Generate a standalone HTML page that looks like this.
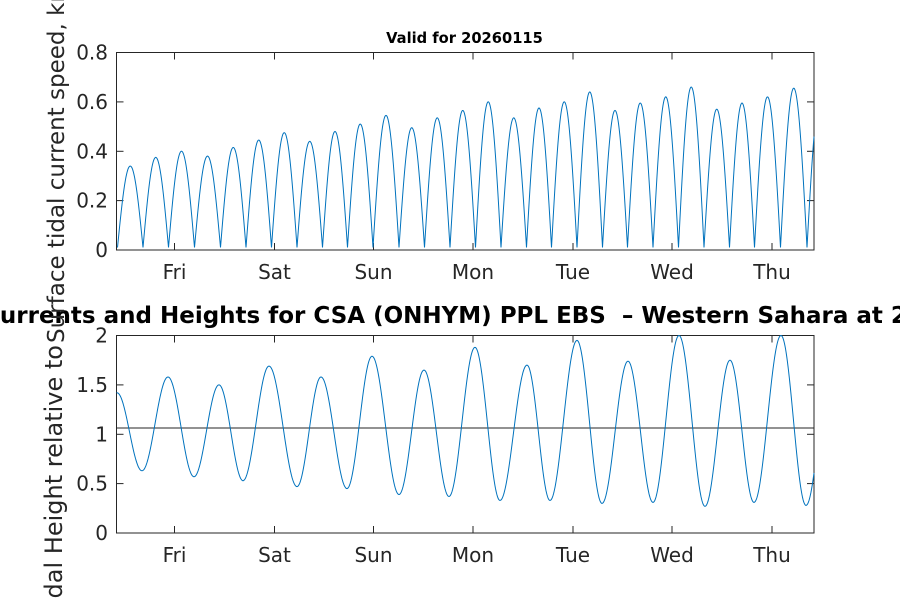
<!DOCTYPE html>
<html><head><meta charset="utf-8"><style>
html,body{margin:0;padding:0;background:#fff;}
svg{display:block;font-family:"DejaVu Sans","Liberation Sans",sans-serif;}
.t{font-size:20px;fill:#262626;}
</style></head><body>
<svg id="s" width="900" height="600" viewBox="0 0 900 600" xmlns="http://www.w3.org/2000/svg">
<rect width="900" height="600" fill="#fff"/>
<text x="464.5" y="43" text-anchor="middle" font-size="14.7" font-weight="bold" fill="#000">Valid for 20260115</text>
<text x="-17" y="323" font-size="23" font-weight="bold" fill="#000" xml:space="preserve" style="white-space:pre">Currents and Heights for CSA (ONHYM) PPL EBS  – Western Sahara at 20260115</text>
<text transform="translate(64,343) rotate(-90)" font-size="23" fill="#262626">Surface tidal current speed, knots</text>
<text transform="translate(62,345) rotate(-90)" font-size="24" fill="#262626" text-anchor="end">Tidal Height relative to</text>
<g id="g"></g>
</svg>
<script>
var g=document.getElementById('g'),h='';
function ax(top,bot,yt){
 h+='<rect x="116.5" y="'+top+'" width="697.5" height="'+(bot-top)+'" fill="none" stroke="#262626" stroke-width="1"/>';
 var days=[[174.5,'Fri'],[274.5,'Sat'],[373.5,'Sun'],[473,'Mon'],[573,'Tue'],[672,'Wed'],[772,'Thu']];
 days.forEach(function(d){h+='<line x1="'+d[0]+'" y1="'+top+'" x2="'+d[0]+'" y2="'+(top+7)+'" stroke="#262626"/><line x1="'+d[0]+'" y1="'+bot+'" x2="'+d[0]+'" y2="'+(bot-7)+'" stroke="#262626"/>';
  h+='<text class="t" x="'+d[0]+'" y="'+(bot+29)+'" text-anchor="middle">'+d[1]+'</text>';});
 yt.forEach(function(t){h+='<line x1="116.5" y1="'+t[0]+'" x2="123.5" y2="'+t[0]+'" stroke="#262626"/><line x1="814" y1="'+t[0]+'" x2="807" y2="'+t[0]+'" stroke="#262626"/>';
  h+='<text class="t" x="108" y="'+(t[0]+7)+'" text-anchor="end">'+t[1]+'</text>';});
}
ax(52.5,250,[[52.5,'0.8'],[101.9,'0.6'],[151.3,'0.4'],[200.6,'0.2'],[250,'0']]);
ax(335.5,533,[[335.5,'2'],[384.9,'1.5'],[434.3,'1'],[483.6,'0.5'],[533,'0']]);
var pk=[[130,.33],[156,.365],[181,.39],[208,.37],[233,.405],[259,.435],[284,.465],[310,.43],[335,.47],[360,.5],[386,.535],[412,.485],[437,.525],[463,.555],[488,.59],[514,.525],[539,.565],[564,.59],[590,.63],[615,.555],[640,.585],[666,.61],[691,.65],[717,.56],[742,.585],[767,.61],[794,.645],[820,.6]];
var p='',first=true;
for(var i=0;i<pk.length;i++){
 var a=i==0?117:(pk[i-1][0]+pk[i][0])/2, b=i==pk.length-1?833:(pk[i][0]+pk[i+1][0])/2;
 if(i==pk.length-1)a=807;
 if(i==0)a=117.5;
 for(var x=a;x<=b;x+=0.5){ if(x>814)break;
  var v=0.01+pk[i][1]*Math.sin(Math.PI*(x-a)/(b-a));
  p+=(first?'M':'L')+x.toFixed(1)+' '+(250-v*247).toFixed(1);first=false;}
}
h+='<path d="'+p+'" fill="none" stroke="#0072bd" stroke-width="1"/>';
var ex=[[92,1.55],[117,1.42],[142,.63],[168,1.58],[194,.57],[219,1.5],[243,.53],[269,1.69],[297,.47],[321,1.58],[347,.45],[372,1.79],[399,.39],[424,1.65],[449,.37],[475,1.88],[500,.33],[527,1.7],[550,.33],[577,1.95],[602,.3],[628,1.74],[653,.31],[679,2.0],[705,.27],[730,1.75],[754,.31],[781,2.0],[806,.28],[832,1.8]];
p='';first=true;
for(var i=0;i<ex.length-1;i++){
 var a=ex[i],b=ex[i+1];
 for(var x=a[0];x<b[0];x+=0.5){ if(x<116.5||x>814)continue;
  var t=(x-a[0])/(b[0]-a[0]);var v=a[1]+(b[1]-a[1])*(1-Math.cos(Math.PI*t))/2;
  p+=(first?'M':'L')+x.toFixed(1)+' '+(533-v*98.75).toFixed(1);first=false;}
}
h+='<line x1="116.5" y1="428" x2="814" y2="428" stroke="#262626" stroke-width="1"/>';
h+='<path d="'+p+'" fill="none" stroke="#0072bd" stroke-width="1"/>';
g.innerHTML=h;
</script>
</body></html>
